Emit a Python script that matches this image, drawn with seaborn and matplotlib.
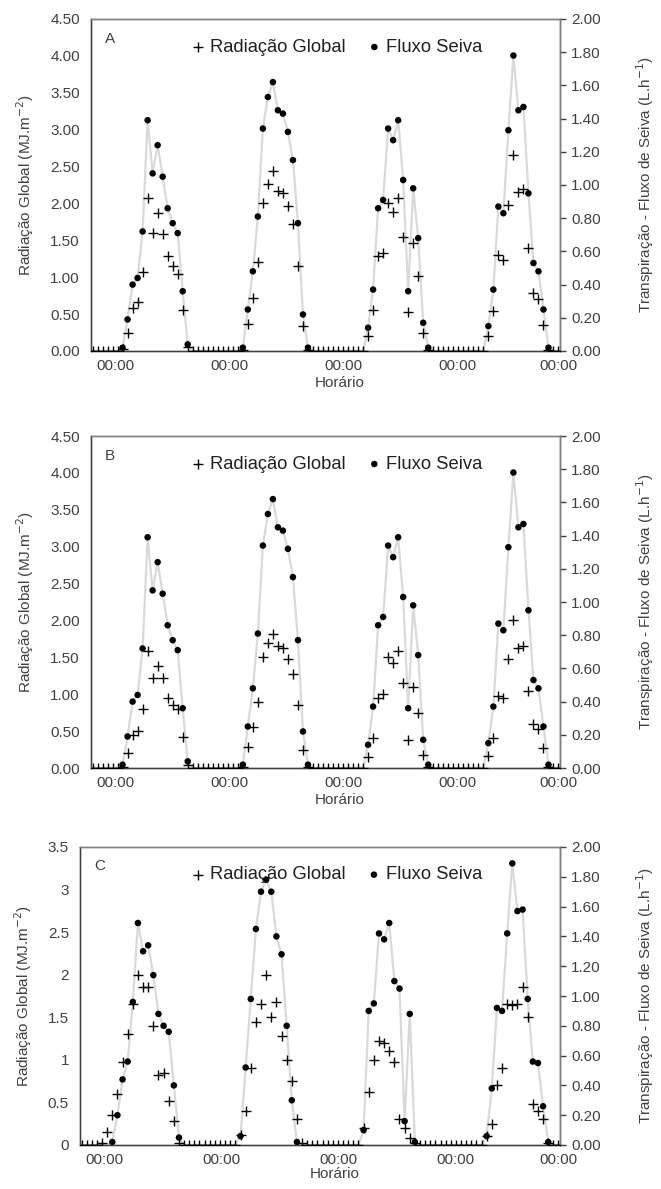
import numpy as np
import pandas as pd
import matplotlib.pyplot as plt
import seaborn as sns

# ── data: 94 hourly samples (4 days), index = sample number ─────────
n_points = 94
tick_pos = [4.5, 27.3, 50.1, 72.9, 93.0]
tick_labels = ['00:00'] * 5


def day_series(values):
    # values: dict {sample index: value}, zero elsewhere
    arr = np.zeros(n_points)
    for k, v in values.items():
        arr[k] = v
    return arr


# Panel A
rad_A = day_series({6: 0.03, 7: 0.25, 8: 0.58, 9: 0.67, 10: 1.07, 11: 2.08, 12: 1.60, 13: 1.87,
                    14: 1.58, 15: 1.29, 16: 1.15, 17: 1.05, 18: 0.55, 19: 0.05,
                    30: 0.02, 31: 0.36, 32: 0.72, 33: 1.21, 34: 2.00, 35: 2.27, 36: 2.44, 37: 2.17,
                    38: 2.14, 39: 1.97, 40: 1.72, 41: 1.15, 42: 0.34, 43: 0.02,
                    55: 0.20, 56: 0.56, 57: 1.29, 58: 1.33, 59: 2.00, 60: 1.89, 61: 2.08, 62: 1.55,
                    63: 0.53, 64: 1.46, 65: 1.02, 66: 0.24, 67: 0.02,
                    79: 0.21, 80: 0.54, 81: 1.30, 82: 1.24, 83: 1.98, 84: 2.65, 85: 2.16, 86: 2.20,
                    87: 1.40, 88: 0.79, 89: 0.70, 90: 0.35, 91: 0.02})
sap_A = day_series({6: 0.02, 7: 0.19, 8: 0.40, 9: 0.44, 10: 0.72, 11: 1.39, 12: 1.07, 13: 1.24,
                    14: 1.05, 15: 0.86, 16: 0.77, 17: 0.71, 18: 0.36, 19: 0.04,
                    30: 0.02, 31: 0.25, 32: 0.48, 33: 0.81, 34: 1.34, 35: 1.53, 36: 1.62, 37: 1.45,
                    38: 1.43, 39: 1.32, 40: 1.15, 41: 0.77, 42: 0.22, 43: 0.02,
                    55: 0.14, 56: 0.37, 57: 0.86, 58: 0.91, 59: 1.34, 60: 1.27, 61: 1.39, 62: 1.03,
                    63: 0.36, 64: 0.98, 65: 0.68, 66: 0.17, 67: 0.02,
                    79: 0.15, 80: 0.37, 81: 0.87, 82: 0.83, 83: 1.33, 84: 1.78, 85: 1.45, 86: 1.47,
                    87: 0.95, 88: 0.53, 89: 0.48, 90: 0.25, 91: 0.02})

# Panel B (same sap flow, different radiation)
rad_B = day_series({6: 0.02, 7: 0.20, 8: 0.45, 9: 0.50, 10: 0.80, 11: 1.58, 12: 1.22, 13: 1.38,
                    14: 1.22, 15: 0.95, 16: 0.85, 17: 0.80, 18: 0.42, 19: 0.04,
                    30: 0.02, 31: 0.28, 32: 0.55, 33: 0.90, 34: 1.50, 35: 1.70, 36: 1.82, 37: 1.65,
                    38: 1.62, 39: 1.48, 40: 1.28, 41: 0.85, 42: 0.25, 43: 0.02,
                    55: 0.15, 56: 0.40, 57: 0.95, 58: 1.00, 59: 1.50, 60: 1.42, 61: 1.58, 62: 1.15,
                    63: 0.38, 64: 1.10, 65: 0.75, 66: 0.18, 67: 0.02,
                    79: 0.16, 80: 0.40, 81: 0.98, 82: 0.95, 83: 1.48, 84: 2.00, 85: 1.62, 86: 1.66,
                    87: 1.05, 88: 0.60, 89: 0.53, 90: 0.27, 91: 0.02})
sap_B = sap_A.copy()

# Panel C
rad_C = day_series({4: 0.02, 5: 0.15, 6: 0.35, 7: 0.60, 8: 0.98, 9: 1.30, 10: 1.66, 11: 2.00,
                    12: 1.85, 13: 1.85, 14: 1.40, 15: 0.82, 16: 0.85, 17: 0.52, 18: 0.28, 19: 0.02,
                    31: 0.12, 32: 0.40, 33: 0.90, 34: 1.45, 35: 1.66, 36: 2.00, 37: 1.50, 38: 1.68,
                    39: 1.28, 40: 1.00, 41: 0.75, 42: 0.30, 43: 0.02,
                    55: 0.20, 56: 0.62, 57: 1.00, 58: 1.22, 59: 1.20, 60: 1.10, 61: 0.98, 62: 0.30,
                    63: 0.20, 64: 0.08, 65: 0.02,
                    79: 0.10, 80: 0.25, 81: 0.70, 82: 0.90, 83: 1.66, 84: 1.65, 85: 1.66, 86: 1.86,
                    87: 1.50, 88: 0.48, 89: 0.40, 90: 0.30, 91: 0.02})
sap_C = day_series({6: 0.02, 7: 0.20, 8: 0.44, 9: 0.56, 10: 0.96, 11: 1.49, 12: 1.30, 13: 1.34,
                    14: 1.14, 15: 0.88, 16: 0.80, 17: 0.76, 18: 0.40, 19: 0.05,
                    31: 0.06, 32: 0.52, 33: 0.98, 34: 1.45, 35: 1.70, 36: 1.78, 37: 1.70, 38: 1.40,
                    39: 1.28, 40: 0.80, 41: 0.30, 42: 0.02,
                    55: 0.10, 56: 0.90, 57: 0.95, 58: 1.42, 59: 1.38, 60: 1.49, 61: 1.10, 62: 1.05,
                    63: 0.16, 64: 0.88, 65: 0.02,
                    79: 0.06, 80: 0.38, 81: 0.92, 82: 0.90, 83: 1.42, 84: 1.89, 85: 1.57, 86: 1.58,
                    87: 0.98, 88: 0.56, 89: 0.55, 90: 0.26, 91: 0.02})

panels = [
    ('A', rad_A, sap_A, 4.5, np.arange(0, 4.51, 0.5), '{:.2f}', [91, 19, 560, 351], 0.525),
    ('B', rad_B, sap_B, 4.5, np.arange(0, 4.51, 0.5), '{:.2f}', [91, 436, 560, 768], 0.525),
    ('C', rad_C, sap_C, 3.5, np.arange(0, 3.51, 0.5), '{:g}', [80, 847, 560, 1145], 0.535),
]

# ── figure ──────────────────────────────────────────────────────────
sns.set_style('white')
plt.rcParams['font.family'] = ['Liberation Sans', 'DejaVu Sans']
W, H = 661, 1189
fig = plt.figure(figsize=(W / 100, H / 100), dpi=100)
txt = '#404040'

for label, rad, sap, ymax, yticks, fmt, box, leg_x in panels:
    x0, y0, x1, y1 = box
    ax = fig.add_axes([x0 / W, 1 - y1 / H, (x1 - x0) / W, (y1 - y0) / H])
    ax2 = ax.twinx()
    df = pd.DataFrame({'t': np.arange(n_points), 'rad': rad, 'sap': sap})
    day = df[df['sap'] > 0]

    sns.lineplot(data=df, x='t', y='sap', ax=ax2, color='#d9d9d9', linewidth=1.6, legend=False)
    sns.scatterplot(data=day, x='t', y='sap', ax=ax2, color='black', s=22, edgecolor='none',
                    zorder=3, label='Fluxo Seiva', legend=False)
    sns.scatterplot(data=df, x='t', y='rad', ax=ax, marker='+', color='black', s=45,
                    linewidth=1.0, zorder=4, label='Radiação Global', legend=False)
    ax.set_zorder(ax2.get_zorder() + 1)
    ax.patch.set_visible(False)

    ax.set_xlim(-0.3, 93.3)
    ax.set_ylim(0, ymax)
    ax2.set_ylim(0, 2.0)
    ax.set_yticks(yticks)
    ax.set_yticklabels([fmt.format(v) for v in yticks])
    ax2.set_yticks(np.arange(0, 2.01, 0.2))
    ax2.set_yticklabels(['{:.2f}'.format(v) for v in np.arange(0, 2.01, 0.2)])
    ax.set_xticks(tick_pos)
    ax.set_xticklabels(tick_labels)

    ax.tick_params(axis='y', length=0, labelsize=11, colors=txt, pad=8)
    ax.tick_params(axis='x', length=0, labelsize=11, colors=txt, pad=6)
    ax2.tick_params(axis='y', length=4, width=1, direction='out', labelsize=11, colors=txt, pad=4)
    for a in (ax, ax2):
        for s in a.spines.values():
            s.set_color('#7f7f7f')
            s.set_linewidth(1.0)
    ax.spines['left'].set_color('#404040')
    ax.spines['bottom'].set_color('#404040')
    ax2.spines['right'].set_color('#404040')

    ax.set_xlabel('Horário', fontsize=11, color=txt, labelpad=2)
    ax.xaxis.set_label_coords(0.53, -0.075)
    ax.set_ylabel('Radiação Global (MJ.m$^{-2}$)', fontsize=11, color=txt, labelpad=10)
    ax2.set_ylabel('Transpiração - Fluxo de Seiva (L.h$^{-1}$)', fontsize=11, color=txt, labelpad=24)

    ax.text(0.03, 0.96, label, transform=ax.transAxes, fontsize=11, color=txt, va='top')
    h1, l1 = ax.get_legend_handles_labels()
    h2, l2 = ax2.get_legend_handles_labels()
    ax.legend(h1 + h2, l1 + l2, loc='upper center', bbox_to_anchor=(leg_x, 0.99), ncol=2,
              frameon=False, fontsize=13.2, handletextpad=0.3, columnspacing=1.2,
              handlelength=0.7, labelcolor='#202020')

fig.savefig('out.png', dpi=100)
